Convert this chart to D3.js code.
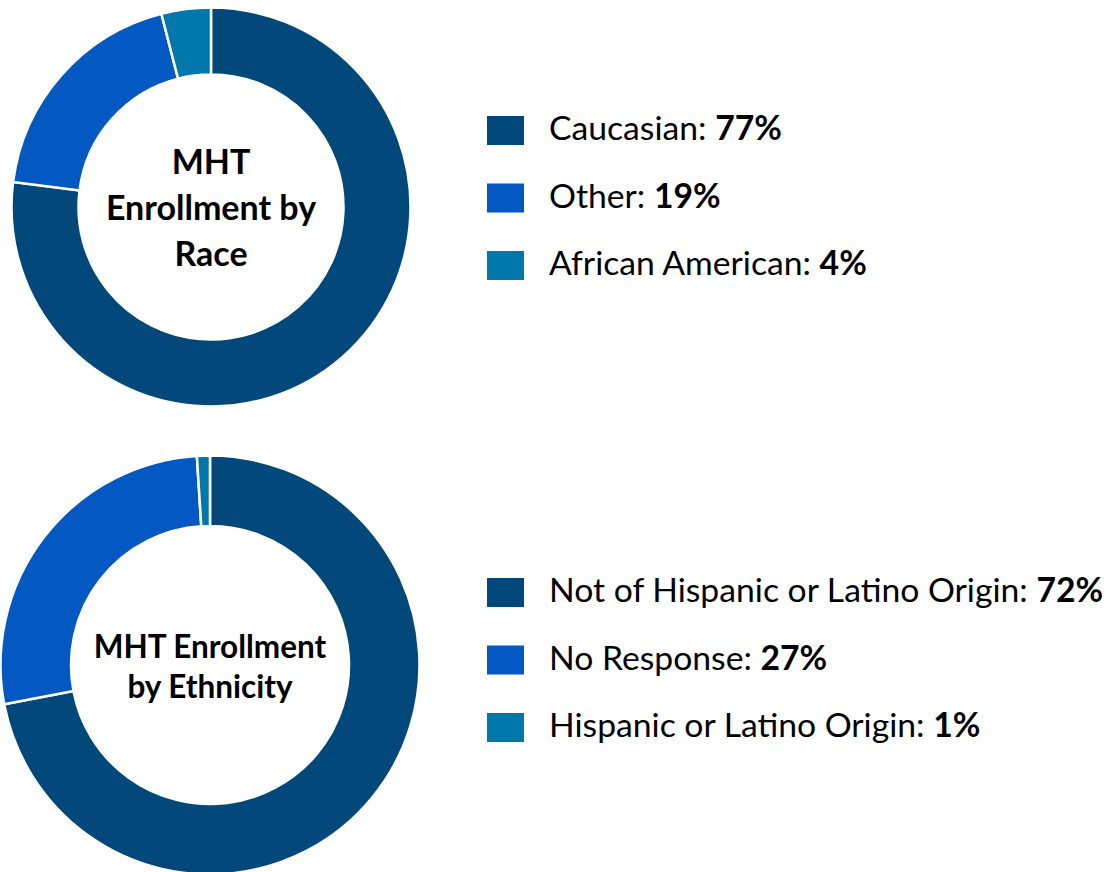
<!DOCTYPE html>
<html>
<head>
<meta charset="utf-8">
<script src="https://cdn.jsdelivr.net/npm/d3@7"></script>
<style>
  html, body { margin: 0; padding: 0; background: #ffffff; }
  svg { display: block; font-family: Lato, "Open Sans", sans-serif; }
</style>
</head>
<body>
<svg id="chart" width="1116" height="872"></svg>
<script>
// Enrollment by race
const raceLabels = ["Caucasian", "Other", "African American"];
const raceValues = [77, 19, 4];
const raceTitle = ["MHT", "Enrollment by", "Race"];

// Enrollment by ethnicity
const ethLabels = ["Not of Hispanic or Latino Origin", "No Response", "Hispanic or Latino Origin"];
const ethValues = [72, 27, 1];
const ethTitle = ["MHT Enrollment", "by Ethnicity"];

const palette = ["#02487a", "#0358c2", "#0277ab"];

const svg = d3.select("#chart");

function donut(cfg) {
  const g = svg.append("g").attr("transform", `translate(${cfg.cx},${cfg.cy})`);
  const pie = d3.pie().sort(null).value(d => d.value);
  const arc = d3.arc().innerRadius(cfg.inner).outerRadius(cfg.outer);
  const color = d3.scaleOrdinal().domain(cfg.labels).range(palette);
  const data = cfg.labels.map((l, i) => ({ label: l, value: cfg.values[i] }));

  g.selectAll("path.slice")
    .data(pie(data))
    .join("path")
    .attr("class", "slice")
    .attr("d", arc)
    .attr("fill", d => color(d.data.label))
    .attr("stroke", "#ffffff")
    .attr("stroke-width", 2.5)
    .attr("stroke-linejoin", "miter");

  // centre title
  const t = g.append("text")
    .attr("text-anchor", "middle")
    .attr("font-weight", 700)
    .attr("font-size", cfg.titleSize)
    .attr("fill", "#000");
  cfg.title.forEach((line, i) => {
    t.append("tspan")
      .attr("x", 0)
      .attr("y", cfg.titleY0 + i * cfg.titleStep)
      .text(line);
  });

  // legend
  const lg = svg.append("g").attr("transform", `translate(${cfg.legendX},${cfg.legendY})`);
  const rows = lg.selectAll("g.row")
    .data(data)
    .join("g")
    .attr("class", "row")
    .attr("transform", (d, i) => `translate(0,${i * 67.5})`);
  rows.append("rect")
    .attr("x", 0).attr("y", 0)
    .attr("width", 37).attr("height", 29)
    .attr("fill", d => color(d.label));
  const txt = rows.append("text")
    .attr("x", 62)
    .attr("y", 24)
    .attr("font-size", 33.7)
    .attr("fill", "#000");
  txt.append("tspan").text(d => d.label + ": ");
  txt.append("tspan").attr("font-weight", 700).text(d => d.value + "%");
}

donut({
  cx: 211, cy: 207, outer: 199.5, inner: 132.5,
  labels: raceLabels, values: raceValues,
  title: raceTitle, titleSize: 34, titleY0: -33, titleStep: 46,
  legendX: 487, legendY: 116
});

donut({
  cx: 210, cy: 665, outer: 209.5, inner: 139,
  labels: ethLabels, values: ethValues,
  title: ethTitle, titleSize: 31.5, titleY0: -7, titleStep: 40,
  legendX: 487, legendY: 578
});
</script>
</body>
</html>
